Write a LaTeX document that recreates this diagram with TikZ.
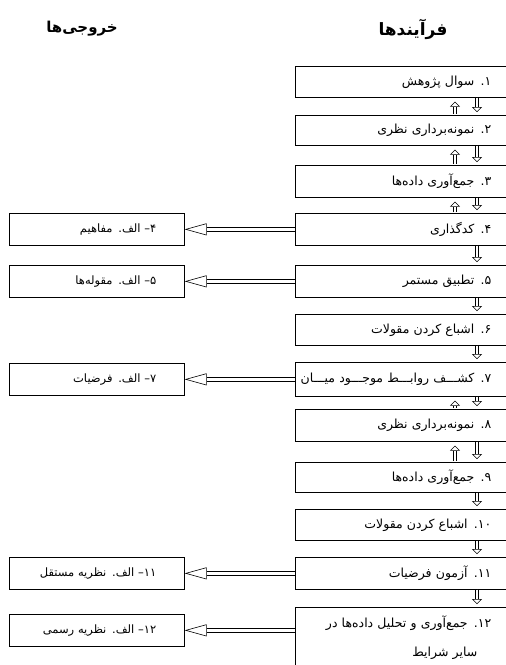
\documentclass[tikz,border=0pt]{standalone}
\usepackage{fontspec}
\usetikzlibrary{arrows.meta}
\TeXXeTstate=1
\newfontfamily\fafont[Script=Arabic]{DejaVu Sans}
\newcommand{\fa}[1]{\beginR #1\endR}

\tikzset{
  stepbox/.style={draw, line width=0.7pt, rectangle, anchor=north west,
    inner xsep=29pt, inner ysep=0pt, text width=167pt, align=right,
    font=\fafont\fontsize{12.5}{14}\selectfont},
  outbox/.style={draw, line width=0.7pt, rectangle, anchor=north west,
    inner xsep=28pt, inner ysep=0pt, text width=119pt, align=right,
    font=\fafont\fontsize{11.5}{13}\selectfont},
  headtext/.style={font=\fafont\bfseries\fontsize{17}{19}\selectfont},
  outarrow/.style={double, double distance=3.4pt, line width=0.6pt,
    -{Triangle[open, length=22pt, width=12pt, line width=0.6pt]}},
  vdarrow/.style={double, double distance=2.6pt, line width=0.5pt,
    -{Triangle[open, length=5pt, width=10pt, line width=0.5pt]}}
}

\begin{document}
\begin{tikzpicture}[x=1pt, y=-1pt]
  \useasboundingbox (0,0) rectangle (506,665);
  \clip (0,0) rectangle (506,665);

  %%%%%%%%%%%%%%%%%%%%%%%%%%%%%%%%%%%%%%%%%%%%%%
  %%% Column titles
  %%%%%%%%%%%%%%%%%%%%%%%%%%%%%%%%%%%%%%%%%%%%%%
  \node[headtext] (hproc) at (413,29) {\fa{فرآیندها}};
  \node[headtext, font=\fafont\bfseries\fontsize{15}{17}\selectfont]
    (hout) at (82,29) {\fa{خروجی‌ها}};

  %%%%%%%%%%%%%%%%%%%%%%%%%%%%%%%%%%%%%%%%%%%%%%
  %%% Process steps (right column, runs off the page)
  %%%%%%%%%%%%%%%%%%%%%%%%%%%%%%%%%%%%%%%%%%%%%%
  \foreach \i/\y/\h/\t in {
      1/66/31/{۱. سوال پژوهش},
      2/115/30/{۲. نمونه‌برداری نظری},
      3/165/32/{۳. جمع‌آوری داده‌ها},
      4/213/32/{۴. کدگذاری},
      5/265/32/{۵. تطبیق مستمر},
      6/314/31/{۶. اشباع کردن مقولات},
      7/362/34/{۷. کشـــف روابـــط موجـــود میـــان},
      8/409/32/{۸. نمونه‌برداری نظری},
      9/462/30/{۹. جمع‌آوری داده‌ها},
      10/509/31/{۱۰. اشباع کردن مقولات},
      11/557/32/{۱۱. آزمون فرضیات}}
    \node[stepbox, minimum height=\h pt] (p\i) at (295,\y)
      {\makebox[167pt][r]{\fa{\t}}};
  % last step has two lines
  \node[stepbox, minimum height=61pt, font=\fafont\fontsize{12.5}{29}\selectfont]
    (p12) at (295,607)
    {\makebox[167pt][r]{\fa{۱۲. جمع‌آوری و تحلیل داده‌ها در}}\\
     \makebox[167pt][r]{\fa{سایر شرایط}\rule{14pt}{0pt}}};

  %%%%%%%%%%%%%%%%%%%%%%%%%%%%%%%%%%%%%%%%%%%%%%
  %%% Outputs (left column)
  %%%%%%%%%%%%%%%%%%%%%%%%%%%%%%%%%%%%%%%%%%%%%%
  \node[outbox, minimum height=32pt] (o4) at (9,213) {\fa{۴– الف. مفاهیم}};
  \node[outbox, minimum height=32pt] (o5) at (9,265) {\fa{۵– الف. مقوله‌ها}};
  \node[outbox, minimum height=32pt] (o7) at (9,363) {\fa{۷– الف. فرضیات}};
  \node[outbox, minimum height=32pt] (o11) at (9,557) {\fa{۱۱– الف. نظریه مستقل}};
  \node[outbox, minimum height=32pt] (o12) at (9,614) {\fa{۱۲– الف. نظریه رسمی}};

  % from each step to its output
  \foreach \i in {4,5,7,11}
    \draw[outarrow] (p\i.west) -- (o\i.east);
  \draw[outarrow] (p12.west |- o12.east) -- (o12.east);

  % going down from one step to the next
  \foreach \i [evaluate=\i as \j using int(\i+1)] in {1,...,11}
    \draw[vdarrow, shorten >=3pt] ([xshift=182pt]p\i.south west)
      -- ([xshift=182pt]p\j.north west);
  % going back up (theoretical sampling loops)
  \foreach \i [evaluate=\i as \j using int(\i+1)] in {1,2,3,7,8}
    \draw[vdarrow, shorten >=4pt, shorten <=1pt] ([xshift=160pt]p\j.north west)
      -- ([xshift=160pt]p\i.south west);
\end{tikzpicture}
\end{document}
